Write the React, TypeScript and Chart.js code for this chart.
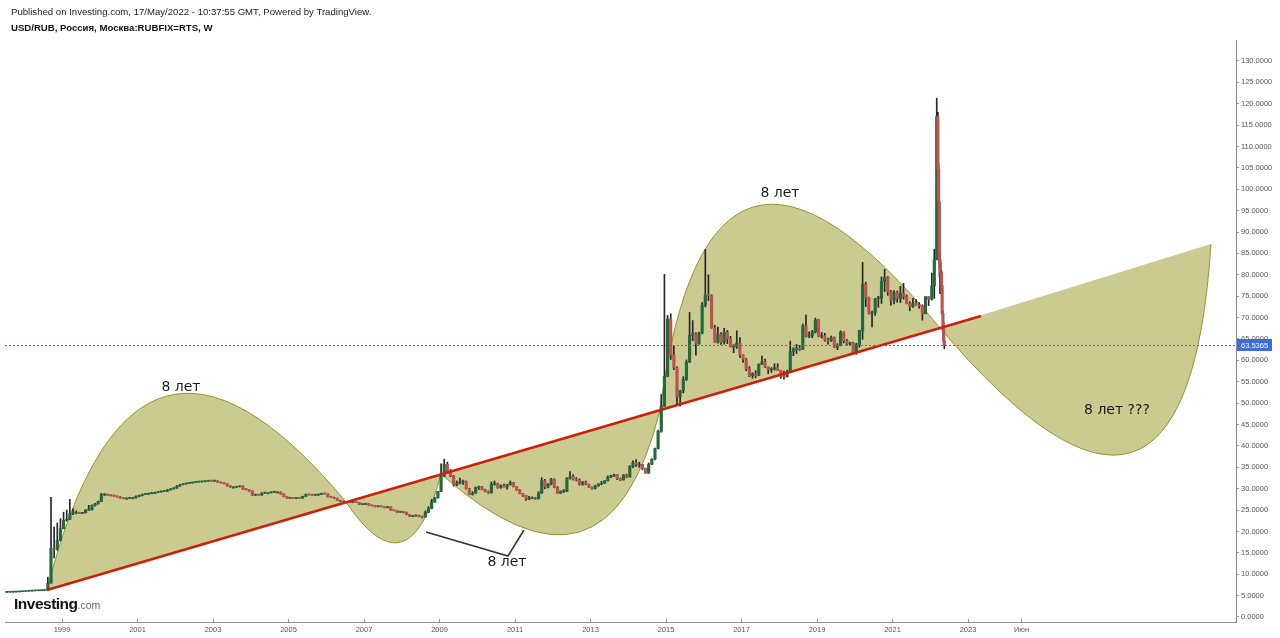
import React, { useEffect, useRef } from "react";
import { Chart, registerables } from "chart.js";

Chart.register(...registerables);

// ---------- candle data (monthly, weekly in 2022) ----------
const dates = [
  "1997-07","1997-08","1997-09","1997-10","1997-11","1997-12",
  "1998-01","1998-02","1998-03","1998-04","1998-05","1998-06","1998-07","1998-08","1998-09","1998-10","1998-11","1998-12",
  "1999-01","1999-02","1999-03","1999-04","1999-05","1999-06","1999-07","1999-08","1999-09","1999-10","1999-11","1999-12",
  "2000-01","2000-02","2000-03","2000-04","2000-05","2000-06","2000-07","2000-08","2000-09","2000-10","2000-11","2000-12",
  "2001-01","2001-02","2001-03","2001-04","2001-05","2001-06","2001-07","2001-08","2001-09","2001-10","2001-11","2001-12",
  "2002-01","2002-02","2002-03","2002-04","2002-05","2002-06","2002-07","2002-08","2002-09","2002-10","2002-11","2002-12",
  "2003-01","2003-02","2003-03","2003-04","2003-05","2003-06","2003-07","2003-08","2003-09","2003-10","2003-11","2003-12",
  "2004-01","2004-02","2004-03","2004-04","2004-05","2004-06","2004-07","2004-08","2004-09","2004-10","2004-11","2004-12",
  "2005-01","2005-02","2005-03","2005-04","2005-05","2005-06","2005-07","2005-08","2005-09","2005-10","2005-11","2005-12",
  "2006-01","2006-02","2006-03","2006-04","2006-05","2006-06","2006-07","2006-08","2006-09","2006-10","2006-11","2006-12",
  "2007-01","2007-02","2007-03","2007-04","2007-05","2007-06","2007-07","2007-08","2007-09","2007-10","2007-11","2007-12",
  "2008-01","2008-02","2008-03","2008-04","2008-05","2008-06","2008-07","2008-08","2008-09","2008-10","2008-11","2008-12",
  "2009-01","2009-02","2009-03","2009-04","2009-05","2009-06","2009-07","2009-08","2009-09","2009-10","2009-11","2009-12",
  "2010-01","2010-02","2010-03","2010-04","2010-05","2010-06","2010-07","2010-08","2010-09","2010-10","2010-11","2010-12",
  "2011-01","2011-02","2011-03","2011-04","2011-05","2011-06","2011-07","2011-08","2011-09","2011-10","2011-11","2011-12",
  "2012-01","2012-02","2012-03","2012-04","2012-05","2012-06","2012-07","2012-08","2012-09","2012-10","2012-11","2012-12",
  "2013-01","2013-02","2013-03","2013-04","2013-05","2013-06","2013-07","2013-08","2013-09","2013-10","2013-11","2013-12",
  "2014-01","2014-02","2014-03","2014-04","2014-05","2014-06","2014-07","2014-08","2014-09","2014-10","2014-11","2014-12",
  "2015-01","2015-02","2015-03","2015-04","2015-05","2015-06","2015-07","2015-08","2015-09","2015-10","2015-11","2015-12",
  "2016-01","2016-02","2016-03","2016-04","2016-05","2016-06","2016-07","2016-08","2016-09","2016-10","2016-11","2016-12",
  "2017-01","2017-02","2017-03","2017-04","2017-05","2017-06","2017-07","2017-08","2017-09","2017-10","2017-11","2017-12",
  "2018-01","2018-02","2018-03","2018-04","2018-05","2018-06","2018-07","2018-08","2018-09","2018-10","2018-11","2018-12",
  "2019-01","2019-02","2019-03","2019-04","2019-05","2019-06","2019-07","2019-08","2019-09","2019-10","2019-11","2019-12",
  "2020-01","2020-02","2020-03","2020-04","2020-05","2020-06","2020-07","2020-08","2020-09","2020-10","2020-11","2020-12",
  "2021-01","2021-02","2021-03","2021-04","2021-05","2021-06","2021-07","2021-08","2021-09","2021-10","2021-11","2021-12",
  "2022-01",
  "2022-02-10","2022-03-03","2022-03-14","2022-03-21","2022-03-28","2022-04-04","2022-04-11","2022-04-18","2022-04-25","2022-05-02","2022-05-09","2022-05-16",
];

const opens = [
  5.77, 5.79, 5.81, 5.84, 5.88, 5.92,
  5.96, 6.03, 6.07, 6.11, 6.14, 6.18, 6.20, 6.24, 7.91, 16.06, 15.92, 17.88,
  20.65, 22.60, 22.86, 24.18, 24.23, 24.44, 24.22, 24.39, 25.01, 25.08, 26.05, 26.42,
  27.00, 28.55, 28.66, 28.46, 28.40, 28.26, 28.07, 27.80, 27.75, 27.75, 27.85, 27.85,
  28.16, 28.37, 28.66, 28.72, 28.84, 29.07, 29.07, 29.24, 29.35, 29.39, 29.71, 29.92,
  30.14, 30.62, 30.93, 31.12, 31.23, 31.35, 31.45, 31.54, 31.61, 31.64, 31.75, 31.86,
  31.78, 31.82, 31.46, 31.38, 31.15, 30.69, 30.35, 30.35, 30.45, 30.61, 29.88, 29.78,
  29.45, 28.49, 28.52, 28.51, 28.99, 29.03, 29.03, 29.17, 29.22, 29.22, 28.77, 28.18,
  27.75, 27.83, 27.73, 27.83, 27.78, 28.21, 28.67, 28.58, 28.48, 28.50, 28.68, 28.82,
  28.78, 28.12, 28.00, 27.76, 27.27, 27.09, 26.85, 26.77, 26.76, 26.78, 26.75, 26.30,
  26.33, 26.53, 26.13, 26.01, 25.79, 25.92, 25.82, 25.56, 25.73, 24.93, 24.86, 24.50,
  24.55, 24.49, 23.97, 23.52, 23.63, 23.74, 23.46, 23.42, 24.53, 25.37, 26.85, 27.85,
  29.38, 32.90, 35.72, 34.01, 33.00, 30.92, 31.29, 31.58, 31.60, 30.01, 28.70, 28.96,
  30.24, 30.40, 29.80, 29.36, 29.03, 31.04, 31.20, 30.19, 30.75, 30.40, 30.96, 31.40,
  30.48, 29.72, 28.88, 28.43, 27.51, 27.87, 27.87, 27.62, 28.99, 31.88, 30.39, 31.03,
  32.20, 30.36, 28.95, 29.33, 29.36, 32.46, 32.82, 32.19, 32.00, 31.06, 31.53, 31.03,
  30.37, 30.03, 30.62, 31.08, 31.27, 31.87, 32.71, 32.96, 33.25, 32.35, 32.08, 33.20,
  32.73, 35.24, 36.05, 35.69, 35.69, 34.74, 33.63, 35.73, 36.93, 39.38, 43.39, 49.32,
  56.26, 69.66, 61.28, 58.19, 51.52, 52.97, 55.52, 59.60, 65.87, 66.24, 64.00, 66.35,
  72.88, 75.18, 75.13, 67.61, 64.27, 66.04, 64.26, 66.58, 65.07, 63.16, 63.19, 64.04,
  61.26, 60.24, 58.02, 56.38, 56.93, 56.52, 59.09, 59.67, 58.42, 57.80, 58.03, 58.33,
  57.60, 56.29, 56.13, 57.26, 61.99, 62.59, 62.76, 62.57, 68.08, 65.59, 65.79, 66.67,
  69.47, 65.59, 65.76, 64.73, 64.56, 65.37, 63.08, 63.47, 66.62, 64.57, 63.87, 64.12,
  61.91, 63.66, 67.00, 77.73, 74.73, 71.00, 71.20, 74.42, 74.57, 78.45, 79.33, 75.96,
  74.04, 75.86, 74.38, 75.70, 74.89, 73.25, 72.63, 73.30, 72.93, 72.76, 70.89, 74.89,
  74.29,
  77.45, 83.50, 117.00, 104.80, 97.00, 83.60, 79.60, 80.60, 77.50, 71.00, 68.00, 64.50,
];

const highs = [
  5.80, 5.82, 5.85, 5.89, 5.93, 5.97,
  6.04, 6.08, 6.12, 6.15, 6.19, 6.22, 6.25, 9.33, 28.00, 21.00, 22.00, 23.00,
  24.50, 25.00, 27.50, 25.30, 24.80, 24.50, 24.45, 25.10, 26.10, 26.20, 26.60, 27.10,
  28.90, 28.85, 28.75, 28.60, 28.50, 28.35, 28.15, 27.95, 27.90, 28.00, 28.00, 28.30,
  28.50, 28.75, 28.85, 28.95, 29.15, 29.20, 29.30, 29.45, 29.50, 29.80, 30.00, 30.25,
  30.75, 31.00, 31.20, 31.30, 31.40, 31.50, 31.60, 31.65, 31.70, 31.80, 31.90, 31.95,
  31.90, 31.88, 31.55, 31.45, 31.20, 30.75, 30.50, 30.55, 30.70, 30.65, 30.00, 29.80,
  29.50, 28.60, 28.60, 29.05, 29.10, 29.10, 29.25, 29.30, 29.30, 29.25, 28.80, 28.20,
  28.00, 27.90, 27.95, 27.90, 28.25, 28.75, 28.75, 28.65, 28.60, 28.75, 28.95, 29.00,
  28.80, 28.20, 28.05, 27.80, 27.30, 27.15, 26.95, 26.85, 26.85, 26.85, 26.78, 26.40,
  26.60, 26.55, 26.15, 26.05, 25.95, 25.95, 25.85, 25.80, 25.75, 24.98, 24.90, 24.70,
  24.70, 24.55, 23.98, 23.70, 23.85, 23.80, 23.50, 24.80, 25.80, 27.50, 28.00, 29.40,
  35.80, 36.90, 36.20, 34.50, 33.10, 31.80, 32.50, 32.00, 31.80, 30.10, 29.30, 30.40,
  30.60, 30.55, 29.90, 29.50, 31.60, 31.80, 31.30, 30.90, 31.10, 31.00, 31.80, 31.50,
  30.50, 29.80, 28.90, 28.45, 28.20, 28.10, 28.00, 29.30, 32.60, 32.20, 31.20, 32.40,
  32.30, 30.50, 29.50, 29.80, 32.60, 34.00, 33.30, 32.60, 32.30, 31.70, 31.80, 31.10,
  30.40, 30.80, 31.20, 31.70, 31.90, 33.00, 33.20, 33.40, 33.30, 32.50, 33.30, 33.40,
  35.40, 36.50, 36.80, 36.20, 35.70, 34.80, 36.00, 37.00, 39.50, 43.70, 52.00, 80.10,
  70.50, 70.90, 63.50, 58.50, 53.00, 56.20, 60.10, 71.20, 69.30, 66.50, 66.60, 73.50,
  85.90, 80.00, 75.30, 68.20, 67.80, 66.50, 67.50, 67.00, 65.60, 63.70, 66.90, 65.30,
  61.30, 60.50, 58.50, 57.10, 57.60, 59.20, 61.00, 60.30, 58.50, 58.30, 59.20, 59.20,
  57.70, 57.50, 57.70, 64.50, 63.00, 63.70, 63.50, 68.50, 70.60, 66.70, 67.00, 69.90,
  69.60, 66.50, 66.30, 65.20, 65.70, 65.50, 63.90, 66.90, 66.70, 64.90, 64.30, 64.30,
  64.00, 67.00, 82.90, 78.30, 74.80, 71.50, 74.50, 75.00, 79.50, 81.30, 79.60, 76.40,
  76.30, 76.20, 77.30, 78.00, 75.30, 73.70, 74.50, 74.20, 73.50, 73.00, 74.90, 74.90,
  80.40,
  86.00, 121.30, 118.00, 106.00, 97.50, 85.50, 82.80, 81.00, 77.80, 71.50, 69.00, 65.00,
];

const lows = [
  5.76, 5.78, 5.80, 5.83, 5.87, 5.91,
  5.95, 6.02, 6.06, 6.10, 6.13, 6.17, 6.19, 6.23, 7.90, 13.80, 15.60, 17.80,
  20.60, 22.40, 22.80, 23.90, 24.10, 24.15, 24.15, 24.30, 24.90, 25.00, 25.90, 26.40,
  26.95, 28.40, 28.40, 28.30, 28.20, 28.00, 27.75, 27.65, 27.65, 27.70, 27.75, 27.80,
  28.10, 28.30, 28.60, 28.65, 28.80, 29.00, 29.05, 29.20, 29.30, 29.35, 29.65, 29.90,
  30.10, 30.55, 30.90, 31.05, 31.20, 31.30, 31.40, 31.50, 31.55, 31.60, 31.70, 31.70,
  31.70, 31.40, 31.30, 31.10, 30.60, 30.30, 30.25, 30.30, 30.40, 29.80, 29.70, 29.40,
  28.40, 28.40, 28.45, 28.45, 28.90, 28.95, 29.00, 29.10, 29.15, 28.70, 28.10, 27.70,
  27.70, 27.65, 27.70, 27.70, 27.75, 28.20, 28.50, 28.40, 28.40, 28.45, 28.65, 28.70,
  28.05, 27.95, 27.70, 27.20, 26.95, 26.80, 26.70, 26.70, 26.70, 26.70, 26.25, 26.25,
  26.30, 26.10, 25.95, 25.75, 25.75, 25.75, 25.50, 25.50, 24.90, 24.80, 24.45, 24.45,
  24.35, 23.90, 23.45, 23.45, 23.55, 23.40, 23.15, 23.30, 24.40, 25.30, 26.80, 27.80,
  29.30, 32.80, 33.80, 32.80, 30.60, 30.70, 31.10, 31.00, 29.90, 28.60, 28.50, 28.90,
  29.80, 29.70, 29.25, 28.90, 28.95, 30.80, 30.10, 30.10, 30.35, 29.90, 30.85, 30.40,
  29.60, 28.80, 28.20, 27.25, 27.45, 27.70, 27.50, 27.60, 28.90, 30.00, 30.20, 30.90,
  30.20, 28.90, 28.90, 29.10, 29.30, 32.20, 32.00, 31.80, 30.80, 30.80, 30.90, 30.30,
  29.90, 29.90, 30.55, 30.90, 31.20, 31.80, 32.60, 32.80, 32.10, 31.90, 32.00, 32.60,
  32.70, 34.90, 35.20, 35.00, 34.40, 33.60, 33.60, 35.60, 36.70, 39.30, 43.20, 49.20,
  56.20, 60.20, 57.80, 49.90, 49.30, 52.40, 55.30, 59.50, 64.60, 61.20, 63.70, 66.20,
  72.50, 74.00, 67.50, 64.20, 64.00, 63.70, 63.80, 63.90, 63.10, 61.80, 62.80, 60.70,
  59.50, 57.60, 56.20, 55.80, 55.90, 56.40, 59.00, 58.30, 56.90, 57.20, 57.70, 57.60,
  55.80, 55.60, 56.10, 57.10, 61.10, 61.60, 62.30, 62.50, 65.50, 65.30, 65.30, 66.40,
  65.50, 65.20, 64.50, 63.80, 64.40, 63.00, 62.50, 63.40, 64.10, 63.50, 63.50, 61.80,
  61.40, 63.10, 64.90, 72.60, 70.80, 67.80, 70.50, 72.40, 73.30, 76.10, 75.20, 72.90,
  73.20, 73.60, 73.50, 74.30, 73.20, 71.60, 72.40, 72.90, 72.20, 69.40, 70.90, 72.80,
  74.10,
  74.50, 83.50, 103.00, 95.50, 81.30, 75.60, 78.80, 77.50, 70.80, 66.50, 63.80, 62.70,
];

const closes = [
  5.79, 5.81, 5.84, 5.88, 5.92, 5.96,
  6.03, 6.07, 6.11, 6.14, 6.18, 6.20, 6.24, 7.91, 16.06, 15.92, 17.88, 20.65,
  22.60, 22.86, 24.18, 24.23, 24.44, 24.22, 24.39, 25.01, 25.08, 26.05, 26.42, 27.00,
  28.55, 28.66, 28.46, 28.40, 28.26, 28.07, 27.80, 27.75, 27.75, 27.85, 27.85, 28.16,
  28.37, 28.66, 28.72, 28.84, 29.07, 29.07, 29.24, 29.35, 29.39, 29.71, 29.92, 30.14,
  30.62, 30.93, 31.12, 31.23, 31.35, 31.45, 31.54, 31.61, 31.64, 31.75, 31.86, 31.78,
  31.82, 31.46, 31.38, 31.15, 30.69, 30.35, 30.35, 30.45, 30.61, 29.88, 29.78, 29.45,
  28.49, 28.52, 28.51, 28.99, 29.03, 29.03, 29.17, 29.22, 29.22, 28.77, 28.18, 27.75,
  27.83, 27.73, 27.83, 27.78, 28.21, 28.67, 28.58, 28.48, 28.50, 28.68, 28.82, 28.78,
  28.12, 28.00, 27.76, 27.27, 27.09, 26.85, 26.77, 26.76, 26.78, 26.75, 26.30, 26.33,
  26.53, 26.13, 26.01, 25.79, 25.92, 25.82, 25.56, 25.73, 24.93, 24.86, 24.50, 24.55,
  24.49, 23.97, 23.52, 23.63, 23.74, 23.46, 23.42, 24.53, 25.37, 26.85, 27.85, 29.38,
  32.90, 35.72, 34.01, 33.00, 30.92, 31.29, 31.58, 31.60, 30.01, 28.70, 28.96, 30.24,
  30.40, 29.80, 29.36, 29.03, 31.04, 31.20, 30.19, 30.75, 30.40, 30.96, 31.40, 30.48,
  29.72, 28.88, 28.43, 27.51, 27.87, 27.87, 27.62, 28.99, 31.88, 30.39, 31.03, 32.20,
  30.36, 28.95, 29.33, 29.36, 32.46, 32.82, 32.19, 32.00, 31.06, 31.53, 31.03, 30.37,
  30.03, 30.62, 31.08, 31.27, 31.87, 32.71, 32.96, 33.25, 32.35, 32.08, 33.20, 32.73,
  35.24, 36.05, 35.69, 35.69, 34.74, 33.63, 35.73, 36.93, 39.38, 43.39, 49.32, 56.26,
  69.66, 61.28, 58.19, 51.52, 52.97, 55.52, 59.60, 65.87, 66.24, 64.00, 66.35, 72.88,
  75.18, 75.13, 67.61, 64.27, 66.04, 64.26, 66.58, 65.07, 63.16, 63.19, 64.04, 61.26,
  60.24, 58.02, 56.38, 56.93, 56.52, 59.09, 59.67, 58.42, 57.80, 58.03, 58.33, 57.60,
  56.29, 56.13, 57.26, 61.99, 62.59, 62.76, 62.57, 68.08, 65.59, 65.79, 66.67, 69.47,
  65.59, 65.76, 64.73, 64.56, 65.37, 63.08, 63.47, 66.62, 64.57, 63.87, 64.12, 61.91,
  63.66, 67.00, 77.73, 74.73, 71.00, 71.20, 74.42, 74.57, 78.45, 79.33, 75.96, 74.04,
  75.86, 74.38, 75.70, 74.89, 73.25, 72.63, 73.30, 72.93, 72.76, 70.89, 74.89, 74.29,
  77.45,
  83.50, 117.00, 104.80, 97.00, 83.60, 79.60, 80.60, 77.50, 71.00, 68.00, 64.50, 63.5365,
];

// ---------- axes ----------
const yTickValues = [0, 5, 10, 15, 20, 25, 30, 35, 40, 45, 50, 55, 60, 65, 70, 75, 80, 85, 90, 95, 100, 105, 110, 115, 120, 125, 130];
const xTickValues = [1999, 2001, 2003, 2005, 2007, 2009, 2011, 2013, 2015, 2017, 2019, 2021, 2023, 2024.4167];
const xTickLabels = ["1999", "2001", "2003", "2005", "2007", "2009", "2011", "2013", "2015", "2017", "2019", "2021", "2023", "Июн"];
const xMin = 1997.49;
const xMax = 2030.1;
const yMin = -1.17;
const yMax = 134.9;

const lastPrice = 63.5365;

// ---------- drawings (in date-year / price units) ----------
const trendX = [1998.603, 2023.344];
const trendY = [6.31, 70.38];

const arcStartX = [1998.603, 2006.523, 2009.04, 2014.841, 2022.258];
const arcStartY = [6.31, 26.89, 33.44, 48.4, 67.57];
const arcCtrlX = [2000.9, 2008.192, 2013.464, 2016.1, 2028.801];
const arcCtrlY = [86.5, 4.91, -1.17, 133.8, -0.47];
const arcEndX = [2006.523, 2009.04, 2014.841, 2022.258, 2029.437];
const arcEndY = [26.89, 33.44, 48.4, 67.57, 87.21];

const noteTexts = ["8 лет", "8 лет", "8 лет", "8 лет ???"];
const noteX = [2002.152, 2018.02, 2010.788, 2026.947];
const noteY = [53.78, 99.14, 12.86, 48.4];

const pointerX = [2008.642, 2010.815, 2011.238];
const pointerY = [19.87, 14.26, 20.34];

function toYear(s: string): number {
  const p = s.split("-").map(Number);
  if (p.length === 3) return p[0] + (p[1] - 1) / 12 + (p[2] - 1) / 365;
  return p[0] + (p[1] - 0.5) / 12;
}

const AXIS_FONT = "'Liberation Sans', Arial, sans-serif";

const drawingsPlugin = {
  id: "drawings",
  beforeDatasetsDraw(chart: any) {
    const { ctx, chartArea, scales } = chart;
    const x = scales.x;
    const y = scales.y;
    ctx.save();
    ctx.beginPath();
    ctx.rect(chartArea.left, chartArea.top, chartArea.right - chartArea.left, chartArea.bottom - chartArea.top);
    ctx.clip();
    for (let i = 0; i < arcStartX.length; i++) {
      const ax = x.getPixelForValue(arcStartX[i]);
      const ay = y.getPixelForValue(arcStartY[i]);
      const cx = x.getPixelForValue(arcCtrlX[i]);
      const cy = y.getPixelForValue(arcCtrlY[i]);
      const bx = x.getPixelForValue(arcEndX[i]);
      const by = y.getPixelForValue(arcEndY[i]);
      ctx.beginPath();
      ctx.moveTo(ax, ay);
      ctx.quadraticCurveTo(cx, cy, bx, by);
      ctx.closePath();
      ctx.fillStyle = "rgba(150,150,35,0.5)";
      ctx.fill();
      ctx.beginPath();
      ctx.moveTo(ax, ay);
      ctx.quadraticCurveTo(cx, cy, bx, by);
      ctx.strokeStyle = "rgba(140,140,30,0.9)";
      ctx.lineWidth = 1;
      ctx.stroke();
    }
    ctx.restore();
  },
  afterDatasetsDraw(chart: any) {
    const { ctx, chartArea, scales } = chart;
    const x = scales.x;
    const y = scales.y;
    ctx.save();
    // trend line
    ctx.beginPath();
    ctx.moveTo(x.getPixelForValue(trendX[0]), y.getPixelForValue(trendY[0]));
    ctx.lineTo(x.getPixelForValue(trendX[1]), y.getPixelForValue(trendY[1]));
    ctx.strokeStyle = "#cc1f0c";
    ctx.lineWidth = 2.5;
    ctx.stroke();

    // last price dotted line
    const py = Math.round(y.getPixelForValue(lastPrice)) + 0.5;
    ctx.beginPath();
    ctx.setLineDash([2, 2]);
    ctx.moveTo(chartArea.left, py);
    ctx.lineTo(chartArea.right, py);
    ctx.strokeStyle = "#3b74e8";
    ctx.lineWidth = 1;
    ctx.stroke();
    ctx.setLineDash([]);

    // pointer lines
    ctx.beginPath();
    for (let i = 0; i < pointerX.length; i++) {
      const px = x.getPixelForValue(pointerX[i]);
      const pyy = y.getPixelForValue(pointerY[i]);
      if (i === 0) ctx.moveTo(px, pyy);
      else ctx.lineTo(px, pyy);
    }
    ctx.strokeStyle = "#333";
    ctx.lineWidth = 1.5;
    ctx.stroke();

    // notes
    ctx.fillStyle = "#1a1a1a";
    ctx.font = "14px 'DejaVu Sans', sans-serif";
    ctx.textAlign = "center";
    ctx.textBaseline = "middle";
    for (let i = 0; i < noteTexts.length; i++) {
      ctx.fillText(noteTexts[i], x.getPixelForValue(noteX[i]), y.getPixelForValue(noteY[i]));
    }

    // x tick marks (upward from axis line)
    ctx.strokeStyle = "#999";
    ctx.lineWidth = 1;
    for (const v of xTickValues) {
      const px = Math.round(x.getPixelForValue(v)) + 0.5;
      ctx.beginPath();
      ctx.moveTo(px, chartArea.bottom - 3);
      ctx.lineTo(px, chartArea.bottom);
      ctx.stroke();
    }

    // price label on the axis
    const boxX = chartArea.right + 1;
    ctx.fillStyle = "#3d6cd6";
    ctx.fillRect(boxX, py - 6.5, 35, 12);
    ctx.fillStyle = "#ffffff";
    ctx.font = "7.5px " + AXIS_FONT;
    ctx.textAlign = "left";
    ctx.textBaseline = "middle";
    ctx.fillText(lastPrice.toFixed(4), boxX + 4, py);
    ctx.restore();
  },
};

export default function App() {
  const canvasRef = useRef<HTMLCanvasElement | null>(null);

  useEffect(() => {
    const canvas = canvasRef.current;
    if (!canvas) return;
    const n = Math.min(dates.length, opens.length, highs.length, lows.length, closes.length);
    const xs = dates.slice(0, n).map(toYear);
    const wicks = xs.map((xv, i) => ({ x: xv, y: [lows[i], highs[i]] }));
    const bodies = xs.map((xv, i) => ({ x: xv, y: [opens[i], closes[i]] }));
    const bodyColors = xs.map((_, i) => (closes[i] >= opens[i] ? "#22693f" : "#c0524d"));

    const chart = new Chart(canvas, {
      type: "bar",
      data: {
        datasets: [
          {
            data: wicks as any,
            backgroundColor: "#262626",
            barThickness: 1,
            grouped: false,
            borderWidth: 0,
            order: 2,
          } as any,
          {
            data: bodies as any,
            backgroundColor: bodyColors,
            barThickness: 2.5,
            minBarLength: 1,
            grouped: false,
            borderWidth: 0,
            order: 1,
          } as any,
        ],
      },
      options: {
        animation: false,
        responsive: false,
        devicePixelRatio: 1,
        layout: { padding: { top: 40, left: 5, right: 0, bottom: 0 } },
        plugins: {
          legend: { display: false },
          tooltip: { enabled: false },
          title: { display: false },
        },
        scales: {
          x: {
            type: "linear",
            min: xMin,
            max: xMax,
            offset: false,
            grid: { display: true, drawOnChartArea: false, drawTicks: false, color: "#999" },
            border: { display: true, color: "#8c8c8c", width: 1 },
            afterBuildTicks: (scale: any) => {
              scale.ticks = xTickValues.map((v) => ({ value: v }));
            },
            afterFit: (scale: any) => {
              scale.height = 16;
            },
            ticks: {
              autoSkip: false,
              maxRotation: 0,
              padding: 3,
              color: "#555",
              font: { family: AXIS_FONT, size: 7.5 },
              callback: (_v: any, i: number) => xTickLabels[i],
            },
          },
          y: {
            type: "linear",
            position: "right",
            min: yMin,
            max: yMax,
            grid: { display: true, drawOnChartArea: false, drawTicks: true, tickLength: 3, color: "#999" },
            border: { display: true, color: "#8c8c8c", width: 1 },
            afterBuildTicks: (scale: any) => {
              scale.ticks = yTickValues.map((v) => ({ value: v }));
            },
            afterFit: (scale: any) => {
              scale.width = 44;
            },
            ticks: {
              padding: 2,
              color: "#555",
              font: { family: AXIS_FONT, size: 7.5 },
              callback: (v: any) => Number(v).toFixed(4),
            },
          },
        },
      } as any,
      plugins: [drawingsPlugin],
    });
    return () => chart.destroy();
  }, []);

  return (
    <div
      style={{
        position: "fixed",
        left: 0,
        top: 0,
        width: 1280,
        height: 638,
        background: "#ffffff",
        overflow: "hidden",
      }}
    >
      <canvas ref={canvasRef} width={1280} height={638} style={{ position: "absolute", left: 0, top: 0 }} />
      <div
        style={{
          position: "absolute",
          left: 11,
          top: 6,
          font: "9.6px 'Liberation Sans', Arial, sans-serif",
          color: "#222",
          whiteSpace: "nowrap",
        }}
      >
        Published on Investing.com, 17/May/2022 - 10:37:55 GMT, Powered by TradingView.
      </div>
      <div
        style={{
          position: "absolute",
          left: 11,
          top: 22,
          font: "bold 9.6px 'Liberation Sans', Arial, sans-serif",
          color: "#111",
          whiteSpace: "nowrap",
        }}
      >
        USD/RUB, Россия, Москва:RUBFIX=RTS, W
      </div>
      <div
        style={{
          position: "absolute",
          left: 14,
          top: 596,
          whiteSpace: "nowrap",
          fontFamily: "'Liberation Sans', Arial, sans-serif",
          lineHeight: "16px",
        }}
      >
        <span style={{ fontWeight: 700, fontSize: 15.5, color: "#111", letterSpacing: -0.5 }}>Investing</span>
        <span style={{ fontSize: 10.5, color: "#666" }}>.com</span>
      </div>
    </div>
  );
}
